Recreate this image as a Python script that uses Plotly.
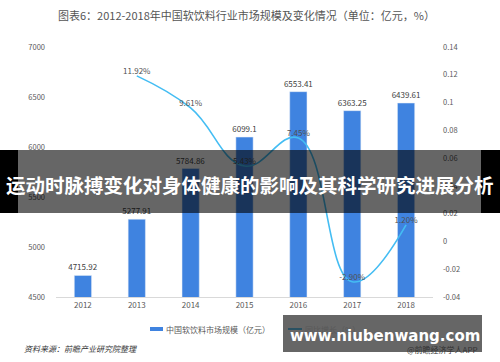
import plotly.graph_objects as go

years = ["2012", "2013", "2014", "2015", "2016", "2017", "2018"]
market_size = [4715.92, 5277.91, 5784.86, 6099.1, 6553.41, 6363.25, 6439.61]
growth_years = ["2013", "2014", "2015", "2016", "2017", "2018"]
growth = [0.1192, 0.0961, 0.0543, 0.0745, -0.0290, 0.0120]
growth_labels = ["11.92%", "9.61%", "5.43%", "7.45%", "-2.90%", "1.20%"]
right_ticks = [-0.04, -0.02, 0, 0.02, 0.04, 0.06, 0.08, 0.1, 0.12, 0.14]
right_tick_text = ["-0.04", "-0.02", "0", "0.02", "0.04", "0.06", "0.08", "0.1", "0.12", "0.14"]

FONT = "Noto Sans CJK SC, Noto Sans, sans-serif"
W, H = 500, 362
L, R, T, B = 56, 67, 47, 65
BAR_COLOR = "#3F83E0"
LINE_COLOR = "#44BDF3"

fig = go.Figure()
fig.add_trace(go.Bar(
    x=years, y=market_size, name="中国软饮料市场规模（亿元）",
    marker=dict(color=BAR_COLOR), width=0.32,
    text=[f"{v:g}" for v in market_size], textposition="outside", constraintext="none",
    textfont=dict(size=8, color="#404040", family=FONT), cliponaxis=False,
))
fig.add_trace(go.Scatter(
    x=growth_years, y=growth, name="同比增长（%）", yaxis="y2",
    mode="lines+text", line=dict(color=LINE_COLOR, width=1.6, shape="spline", smoothing=1.2),
    text=growth_labels, textposition="top center",
    textfont=dict(size=8, color="#505050", family=FONT), cliponaxis=False,
))

fig.update_layout(
    width=W, height=H, autosize=False,
    margin=dict(l=L, r=R, t=T, b=B, autoexpand=False),
    paper_bgcolor="white", plot_bgcolor="white",
    font=dict(family=FONT, size=8, color="#595959"),
    showlegend=False,
    xaxis=dict(type="category", showgrid=False, showline=True, linecolor="#D9D9D9",
               linewidth=1, ticks="", tickfont=dict(size=8, color="#595959")),
    yaxis=dict(range=[4500, 7000], dtick=500, showgrid=False, zeroline=False,
               showline=False, tickfont=dict(size=7.5, color="#595959"), ticklabelstandoff=10),
    yaxis2=dict(overlaying="y", side="right", range=[-0.04, 0.14], tickvals=right_ticks,
                ticktext=right_tick_text, showgrid=False, zeroline=False, showline=False,
                tickfont=dict(size=7.5, color="#595959"), ticklabelstandoff=9),
)


def px_x(v):
    return (v - L) / (W - L - R)


def px_y(v):
    return (H - v - B) / (H - T - B)


# Title
fig.add_annotation(xref="paper", yref="paper", x=px_x(247), y=px_y(15),
                   text="图表6：2012-2018年中国软饮料行业市场规模及变化情况（单位：亿元，%）",
                   showarrow=False, xanchor="center", yanchor="middle",
                   font=dict(size=11, color="#555555", family=FONT))
# Source
fig.add_annotation(xref="paper", yref="paper", x=px_x(22), y=px_y(348),
                   text="<i>资料来源：前瞻产业研究院整理</i>", showarrow=False,
                   xanchor="left", yanchor="middle", font=dict(size=8, color="#333333", family=FONT))

# Manual legend
fig.add_shape(type="rect", xref="paper", yref="paper", x0=px_x(150), x1=px_x(163), y0=px_y(331), y1=px_y(327),
              fillcolor=BAR_COLOR, line=dict(width=0))
fig.add_annotation(xref="paper", yref="paper", x=px_x(164), y=px_y(329),
                   text="中国软饮料市场规模（亿元）", showarrow=False,
                   xanchor="left", yanchor="middle", font=dict(size=8, color="#595959", family=FONT))
fig.add_shape(type="line", xref="paper", yref="paper", x0=px_x(288), x1=px_x(302), y0=px_y(329), y1=px_y(329),
              line=dict(color=LINE_COLOR, width=1.6))
fig.add_annotation(xref="paper", yref="paper", x=px_x(303), y=px_y(329),
                   text="同比增长（%）", showarrow=False,
                   xanchor="left", yanchor="middle", font=dict(size=8, color="#595959", family=FONT))

# Banner overlay
fig.add_shape(type="rect", xref="paper", yref="paper", x0=px_x(0), x1=px_x(18), y0=px_y(213), y1=px_y(150),
              fillcolor="black", line=dict(width=0), layer="above")
fig.add_shape(type="rect", xref="paper", yref="paper", x0=px_x(481), x1=px_x(500), y0=px_y(213), y1=px_y(150),
              fillcolor="black", line=dict(width=0), layer="above")
fig.add_shape(type="rect", xref="paper", yref="paper", x0=px_x(18), x1=px_x(481), y0=px_y(213), y1=px_y(150),
              fillcolor="rgba(0,0,0,0.6)", line=dict(width=0), layer="above")
fig.add_annotation(xref="paper", yref="paper", x=px_x(250), y=px_y(184),
                   text="<b>运动时脉搏变化对身体健康的影响及其科学研究进展分析</b>", showarrow=False,
                   xanchor="center", yanchor="middle", font=dict(size=19.5, color="white", family=FONT))

# Website box
fig.add_shape(type="rect", xref="paper", yref="paper", x0=px_x(283), x1=px_x(482), y0=px_y(352), y1=px_y(315),
              fillcolor="rgba(0,0,0,0.6)", line=dict(width=0), layer="above")
fig.add_annotation(xref="paper", yref="paper", x=px_x(385), y=px_y(336),
                   text="<b>www.niubenwang.com</b>", showarrow=False,
                   xanchor="center", yanchor="middle", font=dict(size=15, color="white", family="DejaVu Sans, sans-serif"))
fig.add_annotation(xref="paper", yref="paper", x=px_x(480), y=px_y(349),
                   text="@前瞻经济学人APP", showarrow=False,
                   xanchor="right", yanchor="middle", font=dict(size=8, color="#333333", family=FONT))

fig.write_html("out.html", config={"displayModeBar": False},
               post_script="document.body.style.margin='0';")
